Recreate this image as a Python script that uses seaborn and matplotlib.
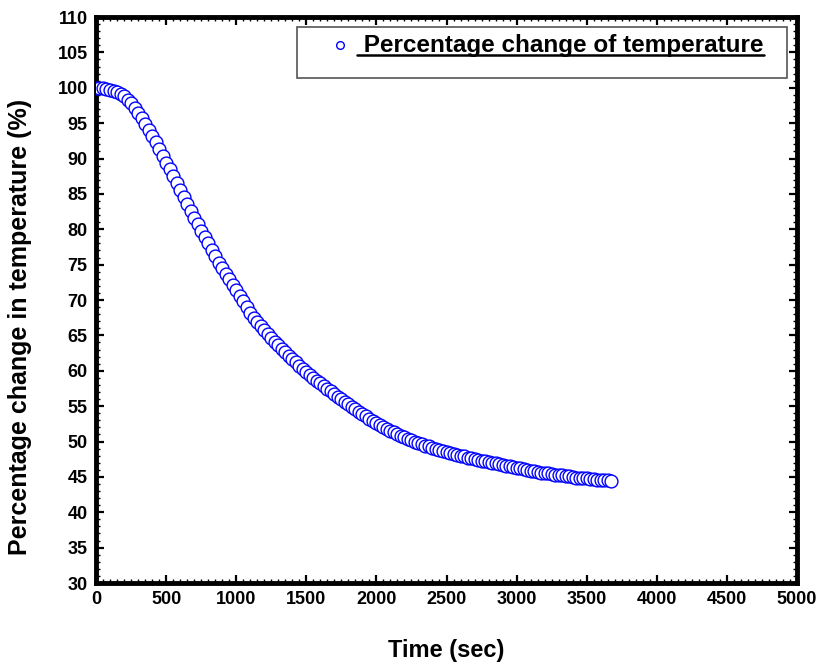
import numpy as np
import pandas as pd
import seaborn as sns
import matplotlib.pyplot as plt
from matplotlib.patches import Rectangle
from matplotlib.lines import Line2D
from matplotlib.ticker import MultipleLocator

time_sec = list(range(0, 3700, 25))
pct_temp = [
    100.0, 100.0, 99.9, 99.8, 99.7, 99.6, 99.4, 99.1, 98.8, 98.3,
    97.8, 97.2, 96.5, 95.7, 94.9, 94.1, 93.2, 92.3, 91.4, 90.4,
    89.4, 88.5, 87.5, 86.5, 85.5, 84.6, 83.6, 82.6, 81.6, 80.7,
    79.8, 78.9, 78.0, 77.1, 76.2, 75.3, 74.5, 73.7, 72.9, 72.1,
    71.4, 70.6, 69.8, 69.0, 68.1, 67.5, 66.9, 66.3, 65.7, 65.2,
    64.6, 64.1, 63.6, 63.1, 62.6, 62.1, 61.6, 61.2, 60.7, 60.3,
    59.8, 59.4, 59.0, 58.6, 58.2, 57.8, 57.4, 57.1, 56.7, 56.3,
    56.0, 55.6, 55.3, 54.9, 54.6, 54.2, 53.9, 53.6, 53.2, 52.9,
    52.6, 52.3, 52.0, 51.8, 51.5, 51.3, 51.0, 50.8, 50.6, 50.4,
    50.2, 50.0, 49.8, 49.6, 49.4, 49.3, 49.1, 48.9, 48.8, 48.6,
    48.5, 48.4, 48.2, 48.1, 48.0, 47.9, 47.7, 47.6, 47.5, 47.4,
    47.3, 47.2, 47.1, 47.0, 46.9, 46.8, 46.7, 46.6, 46.5, 46.4,
    46.3, 46.2, 46.1, 46.0, 45.9, 45.8, 45.7, 45.6, 45.6, 45.5,
    45.4, 45.3, 45.3, 45.2, 45.1, 45.1, 45.0, 44.9, 44.9, 44.8,
    44.8, 44.7, 44.7, 44.6, 44.6, 44.5, 44.5, 44.4,
]
series_label = " Percentage change of temperature"

df = pd.DataFrame({"time": time_sec, "pct": pct_temp})

# setup
sns.set_style("ticks")
plt.rcParams["font.family"] = ["Liberation Sans", "DejaVu Sans"]
plt.rcParams["font.weight"] = "bold"
for key in ["text.color", "axes.labelcolor", "xtick.color", "ytick.color"]:
    plt.rcParams[key] = "black"

fig = plt.figure(figsize=(8.21, 6.65), dpi=100)
ax = fig.add_axes([0.1169, 0.1233, 0.8539, 0.8511])

sns.scatterplot(data=df, x="time", y="pct", ax=ax, marker="o", s=85,
                facecolor="white", edgecolor="#0000ff", linewidth=1.0,
                label=series_label, zorder=3)

ax.set_xlim(0, 5000)
ax.set_ylim(30, 110)
ax.xaxis.set_major_locator(MultipleLocator(500))
ax.xaxis.set_minor_locator(MultipleLocator(50))
ax.yaxis.set_major_locator(MultipleLocator(5))
ax.yaxis.set_minor_locator(MultipleLocator(1))

for side in ["left", "right", "top", "bottom"]:
    ax.spines[side].set_visible(True)
    ax.spines[side].set_linewidth(3.5)
    ax.spines[side].set_color("black")

ax.tick_params(which="major", direction="in", length=6, width=1.6,
               top=True, right=True, labelsize=13, pad=6)
ax.tick_params(which="minor", direction="in", length=3, width=1.0,
               top=True, right=True)
for lbl in ax.get_xticklabels() + ax.get_yticklabels():
    lbl.set_fontweight("bold")

ax.set_xlabel("Time (sec)", size=17, weight="bold", labelpad=22)
ax.set_ylabel("Percentage change in temperature (%)", size=18, weight="bold")
ax.yaxis.set_label_coords(-0.091, 0.452)

# legend frame drawn by hand (reference box is taller than its content)
ax.add_patch(Rectangle((0.2867, 0.8922), 0.6990, 0.0901, transform=ax.transAxes,
                       facecolor="white", edgecolor="#555555", linewidth=1.2, zorder=4))
leg = ax.legend(loc="center left", bbox_to_anchor=(0.314, 0.9505), frameon=False,
                borderpad=0, handlelength=1.0, handletextpad=0.2, markerscale=0.6,
                prop={"size": 17.5, "weight": "bold"})
leg.set_zorder(5)

# underline the legend text
fig.canvas.draw()
bb = leg.get_texts()[0].get_window_extent()
inv = fig.transFigure.inverted()
(x0, y0), (x1, _) = inv.transform([(bb.x0, bb.y0 + 2), (bb.x1, bb.y0 + 2)])
fig.add_artist(Line2D([x0, x1], [y0, y0], transform=fig.transFigure,
                      color="black", linewidth=1.8, zorder=6))

plt.savefig("out.png", dpi=100)
